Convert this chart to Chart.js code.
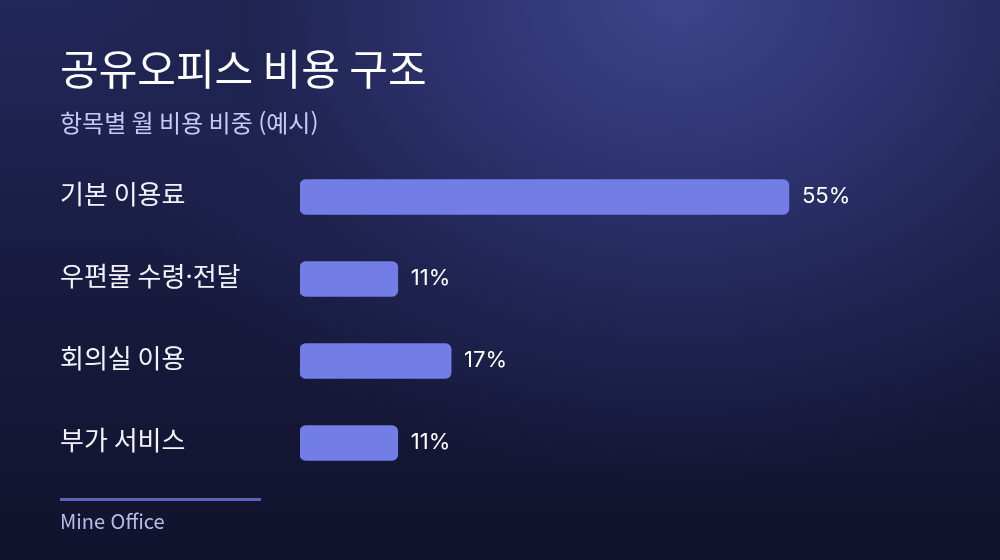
<!DOCTYPE html>
<html lang="ko">
<head>
    <meta charset="UTF-8">
    <title>공유오피스 비용 구조</title>
    <script src="https://cdn.jsdelivr.net/npm/chart.js"></script>
    <style>
        html, body { margin: 0; padding: 0; }
        body {
            width: 1000px;
            height: 560px;
            overflow: hidden;
            background: radial-gradient(ellipse 620px 480px at 680px 0px, #3d4589 0%, #2e3471 35%, #1f2350 70%, rgba(20,22,52,0) 100%),
                        linear-gradient(180deg, #23285c 0%, #171a3c 55%, #11132d 100%);
        }
        #wrap { position: relative; width: 1000px; height: 560px; }
    </style>
</head>
<body>
    <div id="wrap">
        <canvas id="costChart" width="1000" height="560"></canvas>
    </div>

    <script>
        // chart data
        const categories = ['기본 이용료', '우편물 수령·전달', '회의실 이용', '부가 서비스'];
        const shares = [55, 11, 17, 11];

        const titleText = '공유오피스 비용 구조';
        const subtitleText = '항목별 월 비용 비중 (예시)';
        const footerText = 'Mine Office';

        const fontFamily = '"Noto Sans CJK KR", "Noto Sans", sans-serif';
        const numberFont = 'Inter, "Noto Sans", sans-serif';

        // title, subtitle and footer
        const headerFooter = {
            id: 'headerFooter',
            afterDraw(chart) {
                const ctx = chart.ctx;
                ctx.save();
                ctx.textAlign = 'left';
                ctx.textBaseline = 'alphabetic';

                ctx.fillStyle = '#ffffff';
                ctx.font = '400 42px ' + fontFamily;
                ctx.fillText(titleText, 60, 85);

                ctx.fillStyle = '#c6cbf4';
                ctx.font = '24px ' + fontFamily;
                ctx.fillText(subtitleText, 60, 132);

                ctx.fillStyle = '#5b62b8';
                ctx.fillRect(60, 498, 201, 3);

                ctx.fillStyle = '#b9bee9';
                ctx.font = '20px ' + fontFamily;
                ctx.fillText(footerText, 60, 529);
                ctx.restore();
            }
        };

        // value labels at bar ends
        const valueLabels = {
            id: 'valueLabels',
            afterDatasetsDraw(chart) {
                const ctx = chart.ctx;
                const meta = chart.getDatasetMeta(0);
                ctx.save();
                ctx.fillStyle = '#ffffff';
                ctx.font = '400 22px ' + numberFont;
                ctx.textAlign = 'left';
                ctx.textBaseline = 'middle';
                meta.data.forEach((bar, i) => {
                    ctx.fillText(shares[i] + '%', bar.x + 13, bar.y - 1);
                });
                ctx.restore();
            }
        };

        let ctx1 = document.getElementById('costChart').getContext('2d');

        let costChart = new Chart(ctx1, {
            type: 'bar',
            data: {
                labels: categories,
                datasets: [{
                    label: '비중 (%)',
                    data: shares,
                    backgroundColor: '#737de6',
                    borderRadius: 6,
                    borderSkipped: false,
                    barThickness: 35
                }]
            },
            options: {
                indexAxis: 'y',
                responsive: false,
                animation: false,
                layout: {
                    padding: { left: 60, right: 60, top: 156, bottom: 76 }
                },
                plugins: {
                    legend: { display: false },
                    tooltip: { enabled: false },
                    title: { display: false }
                },
                scales: {
                    x: {
                        min: 0,
                        max: 72,
                        display: false,
                        grid: { display: false }
                    },
                    y: {
                        grid: { display: false },
                        border: { display: false },
                        afterFit(scale) { scale.width = 240; },
                        ticks: {
                            crossAlign: 'far',
                            padding: 0,
                            labelOffset: -3,
                            color: '#f2f3fb',
                            font: { family: fontFamily, size: 26 }
                        }
                    }
                }
            },
            plugins: [headerFooter, valueLabels]
        });
    </script>
</body>
</html>
